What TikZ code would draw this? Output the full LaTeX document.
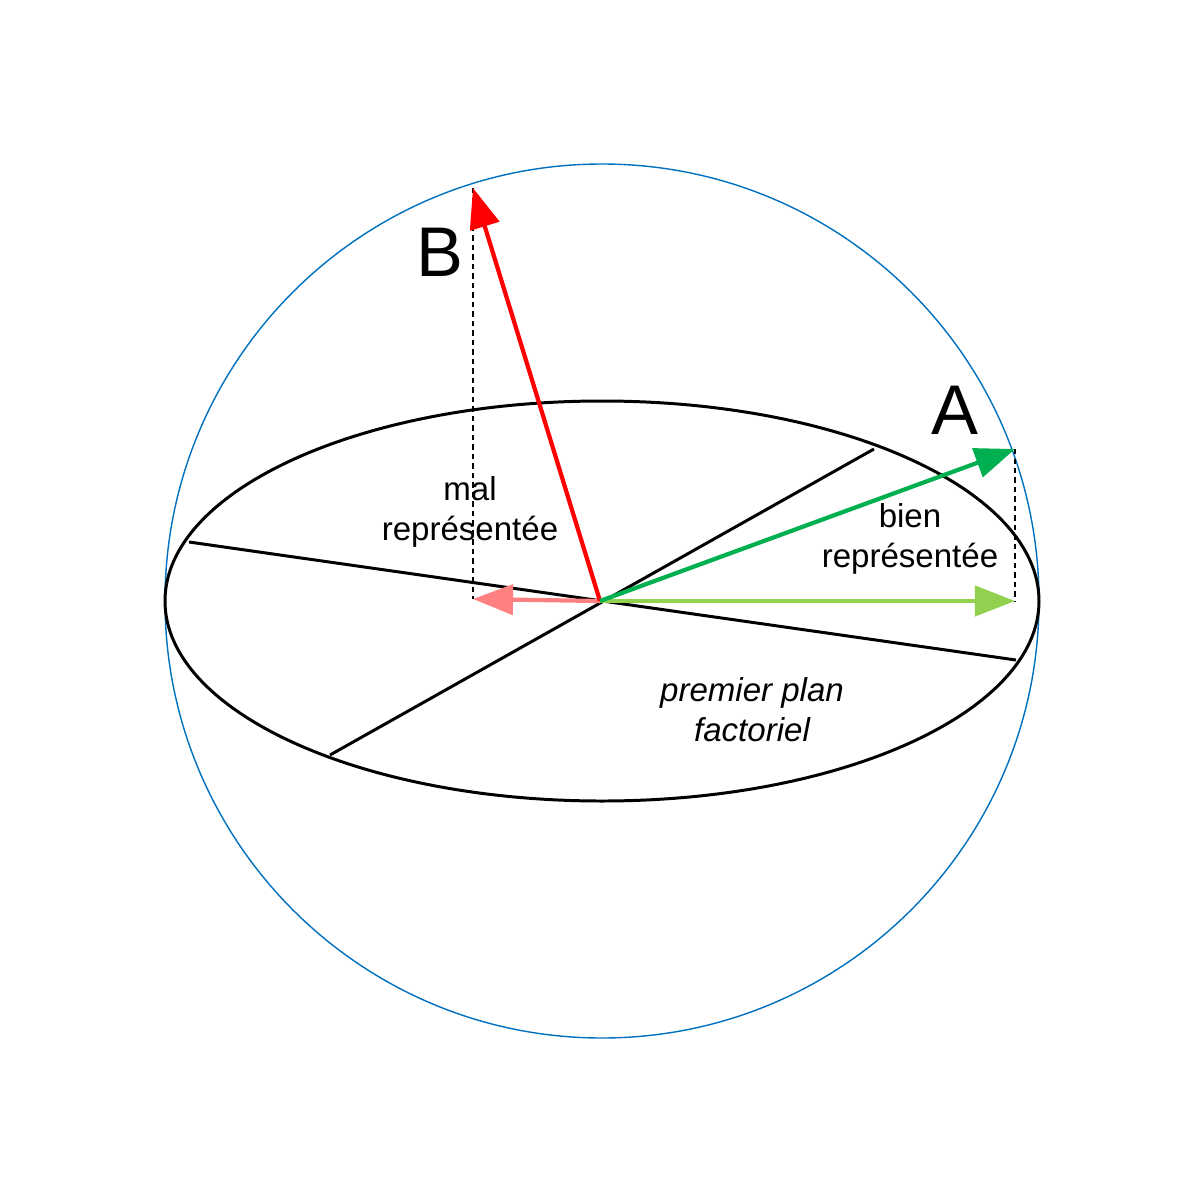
\documentclass[tikz,border=0pt]{standalone}
\usepackage{fontspec}
\setmainfont{Liberation Sans}
\usetikzlibrary{arrows.meta}
\definecolor{sphereblue}{HTML}{0070C0}
\definecolor{darkgreen}{HTML}{00B050}
\definecolor{lightgreen}{HTML}{92D050}
\definecolor{lightred}{HTML}{FF8080}
\tikzstyle{vec}=[
        line width=1.2pt,
        -{Triangle[length=0.4cm,width=0.3cm]}
]
\tikzstyle{proj}=[
        dashed,
        dash pattern=on 1.5pt off 1.2pt,
        thin
]
\tikzstyle{lbl}=[
        font=\fontsize{9.4}{11.4}\selectfont,
        align=center
]
\begin{document}
\begin{tikzpicture}[x=0.01cm,y=-0.01cm]
                    \useasboundingbox (0,0) rectangle (1181,1181);

                    \coordinate (O) at (600,601);
                    \coordinate (Btip) at (473,188);
                    \coordinate (Bproj) at (473,599);
                    \coordinate (Atip) at (1015,449);
                    \coordinate (Aproj) at (1015,601);

                    % sphere and factorial plane
                    \draw[sphereblue, line width=0.4pt] (602,601) circle (437);
                    \draw[line width=0.85pt] (602,601) ellipse (437 and 200);

                    % axes of the plane
                    \coordinate (ax1a) at (189,542);
                    \coordinate (ax1b) at (1016,660);
                    \coordinate (ax2a) at (330,755);
                    \coordinate (ax2b) at (874,449);
                    \draw[line width=0.85pt] (ax1a) -- (ax1b);
                    \draw[line width=0.85pt] (ax2a) -- (ax2b);

                    % projections
                    \draw[proj] (Btip) -- (Bproj);
                    \draw[proj] (Atip) -- (Aproj);

                    \draw[vec, lightred] (O) -- (Bproj);
                    \draw[vec, lightgreen] (O) -- (Aproj);
                    \draw[vec, red] (O) -- (Btip);
                    \draw[vec, darkgreen] (O) -- (Atip);

                    % labels
                    \node (labB) at (440,252) {\fontsize{20}{24}\selectfont B};
                    \node (labA) at (955,410) {\fontsize{20}{24}\selectfont A};
                    \node[lbl] (mal) at (470,512) {mal\\représentée};
                    \node[lbl] (bien) at (910,539) {bien\\représentée};
                    \node[lbl, font=\fontsize{9.4}{11.4}\selectfont\itshape] (plan) at (752,710) {premier plan\\factoriel};

                \end{tikzpicture}
\end{document}
